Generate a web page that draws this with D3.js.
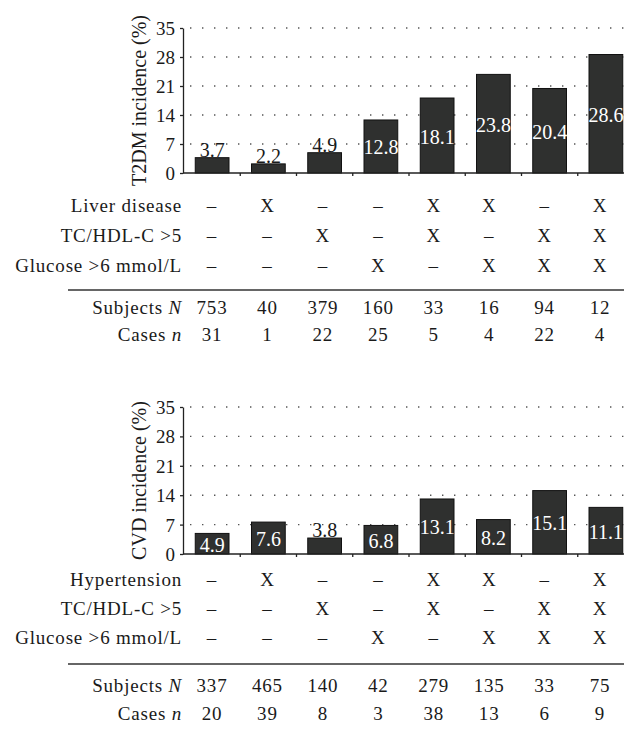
<!DOCTYPE html>
<html>
<head>
<meta charset="utf-8">
<script src="https://cdn.jsdelivr.net/npm/d3@7/dist/d3.min.js"></script>
<style>
  html, body { margin: 0; padding: 0; background: #fff; }
  svg { display: block; }
  text { font-family: "Liberation Serif", "Times New Roman", serif; fill: #1a1a1a; }
  .tbl { font-size: 19px; letter-spacing: 0.8px; }
</style>
</head>
<body>
<svg id="chart" width="624" height="730"></svg>
<script>
// ---------- data ----------
const groups = [0, 1, 2, 3, 4, 5, 6, 7];
const yTicks = [0, 7, 14, 21, 28, 35];

const t2dmTitle = "T2DM incidence (%)";
const t2dmValues = [3.7, 2.2, 4.9, 12.8, 18.1, 23.8, 20.4, 28.6];
const t2dmRowLabels = ["Liver disease", "TC/HDL-C >5", "Glucose >6 mmol/L"];
const t2dmMarks = [
  ["–", "X", "–", "–", "X", "X", "–", "X"],
  ["–", "–", "X", "–", "X", "–", "X", "X"],
  ["–", "–", "–", "X", "–", "X", "X", "X"]
];
const t2dmSubjects = [753, 40, 379, 160, 33, 16, 94, 12];
const t2dmCases = [31, 1, 22, 25, 5, 4, 22, 4];

const cvdTitle = "CVD incidence (%)";
const cvdValues = [4.9, 7.6, 3.8, 6.8, 13.1, 8.2, 15.1, 11.1];
const cvdRowLabels = ["Hypertension", "TC/HDL-C >5", "Glucose >6 mmol/L"];
const cvdMarks = [
  ["–", "X", "–", "–", "X", "X", "–", "X"],
  ["–", "–", "X", "–", "X", "–", "X", "X"],
  ["–", "–", "–", "X", "–", "X", "X", "X"]
];
const cvdSubjects = [337, 465, 140, 42, 279, 135, 33, 75];
const cvdCases = [20, 39, 8, 3, 38, 13, 6, 9];

// ---------- drawing ----------
const svg = d3.select("#chart");

function panel(cfg) {
  const g = svg.append("g");
  const x = d3.scaleBand().domain(groups).range([184, 634]).paddingInner(0.4).paddingOuter(0.2);
  const y = d3.scaleLinear().domain([0, 35]).range([cfg.y0, cfg.y1]);
  const col = d3.scalePoint().domain(groups).range([212, 600]);

  // dotted gridlines
  g.append("g").selectAll("line").data(yTicks.filter(d => d > 0)).join("line")
    .attr("x1", 190).attr("x2", 624)
    .attr("y1", d => y(d)).attr("y2", d => y(d))
    .attr("stroke", "#555").attr("stroke-width", 1.4)
    .attr("stroke-dasharray", "1.4 10.6").attr("stroke-linecap", "butt");

  // bars
  g.append("g").selectAll("rect").data(cfg.values).join("rect")
    .attr("x", (d, i) => x(i)).attr("width", x.bandwidth())
    .attr("y", d => y(d)).attr("height", d => y(0) - y(d))
    .attr("fill", "#2f302f").attr("stroke", "#111").attr("stroke-width", 1);

  // bar labels
  g.append("g").selectAll("text").data(cfg.values).join("text")
    .attr("x", (d, i) => x(i) + x.bandwidth() / 2)
    .attr("y", d => d >= cfg.insideMin ? (y(d) + y(0)) / 2 + 8 : y(d) - 1)
    .attr("text-anchor", "middle")
    .style("font-size", "20px")
    .style("fill", d => d >= cfg.insideMin ? "#ffffff" : "#1a1a1a")
    .text(d => d.toFixed(1));

  // y axis
  const ya = g.append("g").attr("transform", "translate(183,0)")
    .call(d3.axisLeft(y).tickValues(yTicks).tickSize(3).tickSizeOuter(0).tickPadding(5));
  ya.select(".domain").attr("stroke", "#222").attr("stroke-width", 1.3);
  ya.selectAll(".tick line").attr("stroke", "#222").attr("stroke-width", 1.3);
  ya.selectAll(".tick text").style("font-size", "19px")
    .style("font-family", "'Liberation Serif', serif").attr("fill", "#1a1a1a").attr("dy", "0.34em");

  // x axis line + boundary ticks
  g.append("line").attr("x1", 183).attr("x2", 634).attr("y1", y(0)).attr("y2", y(0))
    .attr("stroke", "#222").attr("stroke-width", 1.5);
  g.append("g").selectAll("line").data(groups.slice(1)).join("line")
    .attr("x1", d => x(d) - x.step() * x.paddingInner() / 2)
    .attr("x2", d => x(d) - x.step() * x.paddingInner() / 2)
    .attr("y1", y(0)).attr("y2", y(0) + 3)
    .attr("stroke", "#222").attr("stroke-width", 1.3);

  // y title
  g.append("text")
    .attr("transform", `translate(146,${(cfg.y0 + cfg.y1) / 2}) rotate(-90)`)
    .attr("text-anchor", "middle")
    .style("font-size", "20px")
    .text(cfg.title);

  // table rows
  cfg.rowLabels.forEach((lab, r) => {
    g.append("text").attr("class", "tbl").attr("x", 182).attr("y", cfg.rows[r])
      .attr("text-anchor", "end").text(lab);
    g.append("g").selectAll("text").data(cfg.marks[r]).join("text")
      .attr("class", "tbl")
      .attr("x", (d, i) => col(i)).attr("y", cfg.rows[r])
      .attr("text-anchor", "middle").text(d => d);
  });

  g.append("line").attr("x1", 68).attr("x2", 624)
    .attr("y1", cfg.rule).attr("y2", cfg.rule)
    .attr("stroke", "#333").attr("stroke-width", 1.5);

  const lab1 = g.append("text").attr("class", "tbl").attr("x", 182).attr("y", cfg.rows[3])
    .attr("text-anchor", "end");
  lab1.append("tspan").text("Subjects ");
  lab1.append("tspan").style("font-style", "italic").text("N");
  g.append("g").selectAll("text").data(cfg.subjects).join("text")
    .attr("class", "tbl")
    .attr("x", (d, i) => col(i)).attr("y", cfg.rows[3])
    .attr("text-anchor", "middle").text(d => d);

  const lab2 = g.append("text").attr("class", "tbl").attr("x", 182).attr("y", cfg.rows[4])
    .attr("text-anchor", "end");
  lab2.append("tspan").text("Cases ");
  lab2.append("tspan").style("font-style", "italic").text("n");
  g.append("g").selectAll("text").data(cfg.cases).join("text")
    .attr("class", "tbl")
    .attr("x", (d, i) => col(i)).attr("y", cfg.rows[4])
    .attr("text-anchor", "middle").text(d => d);
}

panel({
  title: t2dmTitle, values: t2dmValues, rowLabels: t2dmRowLabels, marks: t2dmMarks,
  subjects: t2dmSubjects, cases: t2dmCases,
  y0: 173, y1: 28, insideMin: 5,
  rows: [212, 242, 272, 314, 341], rule: 290
});
panel({
  title: cvdTitle, values: cvdValues, rowLabels: cvdRowLabels, marks: cvdMarks,
  subjects: cvdSubjects, cases: cvdCases,
  y0: 554, y1: 407, insideMin: 4,
  rows: [586, 615, 644, 692, 720], rule: 664
});
</script>
</body>
</html>
